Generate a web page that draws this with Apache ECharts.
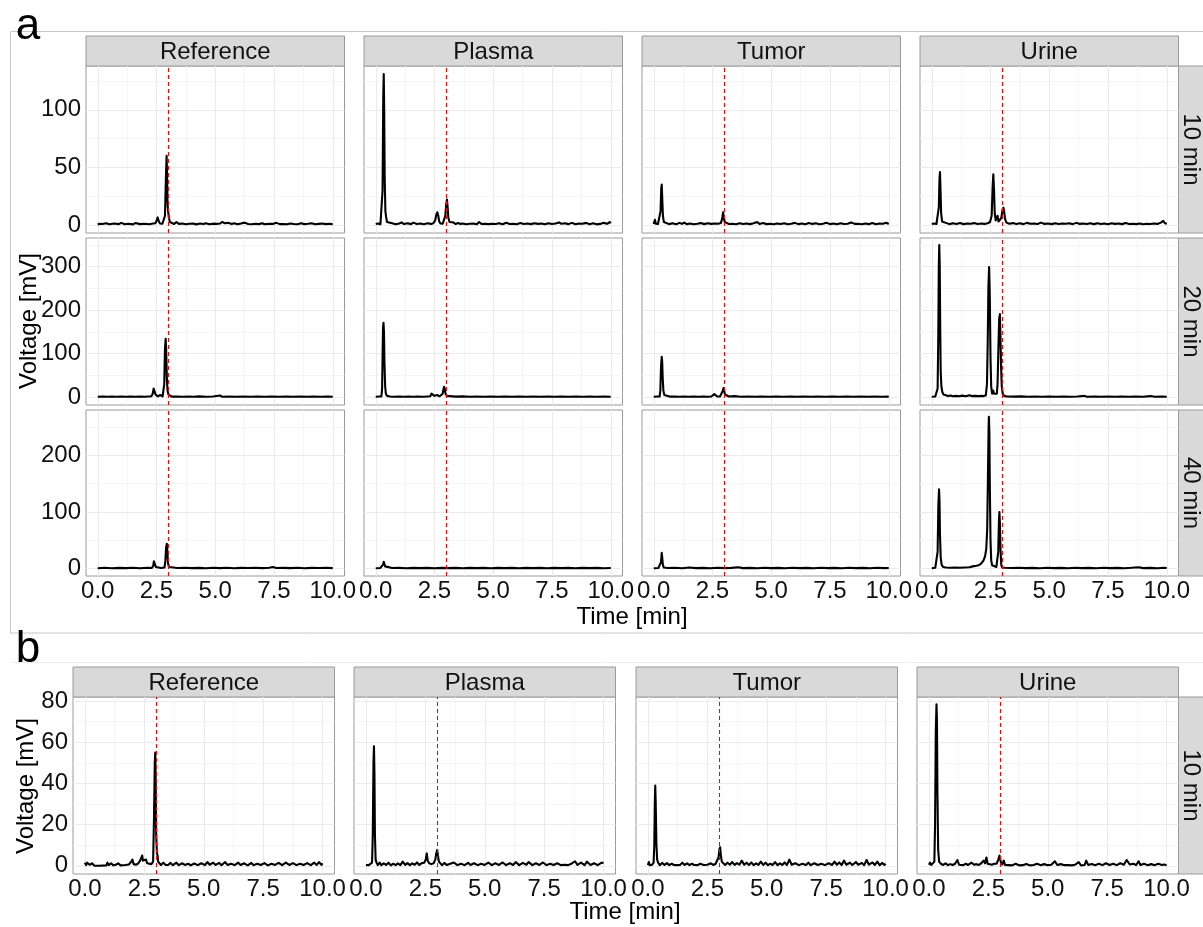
<!DOCTYPE html>
<html><head><meta charset="utf-8">
<script src="https://cdn.jsdelivr.net/npm/echarts@6/dist/echarts.min.js"></script>
<style>html,body{margin:0;padding:0;background:#fff}#c{width:1203px;height:927px}</style>
</head><body><div id="c"></div>
<script>
// ---------- labels & ticks ----------
const sampleNames = ['Reference', 'Plasma', 'Tumor', 'Urine'];
const rowLabelsA = ['10 min', '20 min', '40 min'];
const rowLabelB = '10 min';
const xTicks = [0, 2.5, 5, 7.5, 10];
const xMinor = [1.25, 3.75, 6.25, 8.75];
const yTicksA10 = [0, 50, 100];
const yMinorA10 = [25, 75, 125];
const yTicksA20 = [0, 100, 200, 300];
const yMinorA20 = [50, 150, 250, 350];
const yTicksA40 = [0, 100, 200];
const yMinorA40 = [50, 150, 250];
const yTicksB = [0, 20, 40, 60, 80];
const yMinorB = [10, 30, 50, 70];
const markerTime = 3.0;
const xTitle = 'Time [min]';
const yTitle = 'Voltage [mV]';

// ---------- a: 10 min ----------
const refA10 = [[0,0.5],[0.1,1],[0.2,0.8],[0.35,1.5],[0.5,0.6],[0.7,1.2],[0.9,0.7],[1.0,1.8],[1.15,0.6],[1.3,1.0],[1.5,0.5],[1.6,1.6],[1.8,0.7],[2.0,1.0],[2.2,0.6],[2.35,1.3],[2.45,1.5],[2.5,3.5],[2.55,6.5],[2.6,3],[2.65,1.2],[2.75,1.0],[2.82,1.5],[2.86,8],[2.9,40],[2.93,60],[2.95,42],[2.97,18],[3.0,11],[3.03,6],[3.07,2.5],[3.12,1.2],[3.25,0.8],[3.35,2.5],[3.45,0.9],[3.6,1.3],[3.75,0.6],[3.9,1.0],[4.05,1.3],[4.2,0.5],[4.35,1.2],[4.5,0.8],[4.6,1.4],[4.75,0.6],[4.9,1.1],[5.05,0.9],[5.2,1.2],[5.3,2.6],[5.4,1.5],[5.55,1.8],[5.7,0.9],[5.8,1.5],[5.95,0.6],[6.1,1.3],[6.25,2.0],[6.4,0.8],[6.55,0.6],[6.7,1.0],[6.85,0.7],[7.0,1.5],[7.1,0.6],[7.3,1.0],[7.45,0.9],[7.6,1.8],[7.75,0.7],[7.9,0.8],[8.05,0.6],[8.2,1.2],[8.35,0.8],[8.5,0.6],[8.65,1.4],[8.8,0.7],[8.95,1.0],[9.1,1.5],[9.25,0.6],[9.4,0.9],[9.55,1.2],[9.7,0.7],[9.85,1.1],[10,0.6]];
const plasmaA10 = [[0,0.8],[0.1,1.2],[0.2,0.7],[0.26,1.5],[0.29,30],[0.32,112],[0.34,131],[0.36,98],[0.38,42],[0.41,12],[0.44,7],[0.48,2.5],[0.55,0.8],[0.7,1.4],[0.85,0.6],[1.0,1.2],[1.1,2.2],[1.2,0.8],[1.35,1.5],[1.5,0.7],[1.6,2.0],[1.75,0.8],[1.9,1.2],[2.05,0.6],[2.2,1.4],[2.35,0.9],[2.45,1.5],[2.53,4],[2.58,9],[2.62,11],[2.66,8],[2.7,3],[2.76,1.2],[2.85,1.0],[2.92,1.8],[2.96,8],[3.0,18],[3.03,22],[3.06,15],[3.09,6],[3.14,2.5],[3.2,1.2],[3.3,2.2],[3.4,0.8],[3.5,1.6],[3.6,0.9],[3.7,1.3],[3.85,0.6],[4.0,1.0],[4.15,1.2],[4.3,0.6],[4.4,2.5],[4.5,0.8],[4.65,1.1],[4.8,0.7],[4.95,1.0],[5.1,0.8],[5.25,1.4],[5.4,0.6],[5.55,1.9],[5.7,0.8],[5.85,1.0],[6.0,0.6],[6.15,1.6],[6.3,0.8],[6.45,1.2],[6.6,0.7],[6.75,1.5],[6.9,0.9],[7.05,1.2],[7.2,0.6],[7.35,1.5],[7.5,0.8],[7.65,1.3],[7.8,2.2],[7.9,1.0],[8.05,1.5],[8.2,0.7],[8.35,1.8],[8.5,0.6],[8.65,1.3],[8.8,1.0],[8.95,1.8],[9.1,0.6],[9.25,1.4],[9.4,0.5],[9.55,0.9],[9.7,1.8],[9.85,1.0],[9.95,2.5],[10,1.5]];
const tumorA10 = [[0,0.8],[0.05,4.5],[0.09,1.0],[0.18,0.8],[0.26,1.5],[0.29,12],[0.32,32],[0.34,35],[0.36,24],[0.39,8],[0.43,2.5],[0.5,1.2],[0.65,0.7],[0.8,1.5],[0.95,0.6],[1.1,1.8],[1.2,0.9],[1.3,2.0],[1.4,0.7],[1.55,1.2],[1.7,0.6],[1.85,1.0],[2.0,1.6],[2.15,0.7],[2.3,1.5],[2.45,0.9],[2.6,1.3],[2.75,1.0],[2.85,1.6],[2.91,5],[2.95,11],[2.98,7],[3.02,2.5],[3.08,1.2],[3.2,0.8],[3.35,1.1],[3.5,0.6],[3.65,1.5],[3.8,0.8],[3.95,1.2],[4.1,0.7],[4.25,1.4],[4.4,2.5],[4.5,0.9],[4.65,1.6],[4.8,0.7],[4.95,1.0],[5.1,0.6],[5.25,1.2],[5.4,0.8],[5.55,1.5],[5.7,0.6],[5.85,1.1],[6.0,1.8],[6.15,0.7],[6.3,1.3],[6.45,0.6],[6.6,1.7],[6.75,0.9],[6.9,1.4],[7.05,0.6],[7.2,1.1],[7.35,1.9],[7.5,0.7],[7.65,1.2],[7.8,0.6],[7.95,1.5],[8.1,0.8],[8.25,1.0],[8.4,2.2],[8.55,0.9],[8.7,1.0],[8.85,0.6],[9.0,1.3],[9.15,0.7],[9.3,1.7],[9.45,0.6],[9.6,1.2],[9.75,1.0],[9.9,1.9],[10,0.8]];
const urineA10 = [[0,0.8],[0.1,1.2],[0.2,0.8],[0.27,2],[0.3,15],[0.33,40],[0.35,46],[0.37,32],[0.4,10],[0.44,3],[0.5,1.5],[0.6,1.8],[0.75,0.7],[0.9,1.5],[1.05,0.8],[1.2,1.6],[1.35,0.7],[1.5,1.3],[1.65,1.0],[1.8,1.6],[1.95,0.8],[2.1,1.2],[2.25,0.9],[2.38,1.5],[2.48,2.5],[2.55,8],[2.59,32],[2.62,44],[2.65,30],[2.68,10],[2.72,4],[2.76,4.5],[2.8,8],[2.84,3],[2.9,2.5],[2.96,6],[3.01,13],[3.05,15],[3.08,12],[3.12,5],[3.18,2],[3.3,1.0],[3.45,1.6],[3.6,0.8],[3.75,1.4],[3.9,0.7],[4.05,1.8],[4.2,1.0],[4.35,1.3],[4.5,0.8],[4.65,2.0],[4.8,0.9],[4.95,1.3],[5.1,0.7],[5.25,1.5],[5.4,0.8],[5.55,1.2],[5.7,1.0],[5.85,1.5],[6.0,0.7],[6.15,1.8],[6.3,0.9],[6.45,1.2],[6.6,0.8],[6.75,1.4],[6.9,0.7],[7.05,1.5],[7.2,0.8],[7.35,1.2],[7.5,0.6],[7.65,1.5],[7.8,0.9],[7.95,1.2],[8.1,0.7],[8.25,1.6],[8.4,0.8],[8.55,1.1],[8.7,0.7],[8.85,1.3],[9.0,0.6],[9.15,1.0],[9.3,0.8],[9.45,1.2],[9.6,0.9],[9.75,2.0],[9.85,3.5],[9.92,1.5],[10,1.0]];

// ---------- a: 20 min ----------
const refA20 = [[0,0.8],[0.2,1.5],[0.4,0.8],[0.6,1.4],[0.8,0.9],[1.0,1.6],[1.2,0.8],[1.4,1.3],[1.6,0.9],[1.8,1.5],[2.0,0.8],[2.15,1.4],[2.28,2],[2.34,8],[2.38,20],[2.4,24],[2.42,18],[2.46,6],[2.5,2.5],[2.56,2],[2.62,4],[2.66,5],[2.7,2.5],[2.76,2],[2.8,3],[2.83,30],[2.86,110],[2.89,134],[2.91,110],[2.94,45],[2.97,15],[3.01,6],[3.06,2.5],[3.15,1.2],[3.4,1.5],[3.6,0.8],[3.9,1.6],[4.1,0.9],[4.3,1.8],[4.6,1.0],[4.9,1.4],[5.2,4],[5.3,1.0],[5.6,1.5],[5.9,0.9],[6.2,1.6],[6.5,1.0],[6.8,1.4],[7.1,0.8],[7.4,1.5],[7.7,1.0],[8.0,1.6],[8.3,0.8],[8.6,1.5],[8.9,0.9],[9.2,1.3],[9.5,0.8],[9.8,1.5],[10,1.0]];
const plasmaA20 = [[0,0.8],[0.15,1.5],[0.24,1.5],[0.27,20],[0.29,90],[0.31,160],[0.33,171],[0.35,150],[0.37,80],[0.4,25],[0.43,8],[0.48,3],[0.6,1.5],[0.8,0.9],[1.0,1.6],[1.2,0.8],[1.4,1.5],[1.6,0.9],[1.8,1.4],[2.0,0.8],[2.2,1.5],[2.32,2],[2.37,8],[2.41,11],[2.45,6],[2.5,3],[2.56,3],[2.6,5],[2.64,3],[2.72,2],[2.8,2.5],[2.85,8],[2.88,18],[2.91,24],[2.94,18],[2.97,8],[3.02,3],[3.1,1.5],[3.4,1.2],[3.7,1.8],[4.0,0.9],[4.3,1.5],[4.6,1.0],[4.9,1.6],[5.2,0.8],[5.5,1.4],[5.8,0.9],[6.1,1.5],[6.4,0.8],[6.7,1.6],[7.0,0.9],[7.3,1.4],[7.6,1.0],[7.9,1.5],[8.2,0.8],[8.5,1.6],[8.8,1.0],[9.1,1.4],[9.4,0.8],[9.7,1.5],[10,1.0]];
const tumorA20 = [[0,0.8],[0.15,1.5],[0.25,1.5],[0.28,15],[0.31,70],[0.34,93],[0.36,80],[0.38,45],[0.41,15],[0.45,5],[0.52,2],[0.7,1.2],[0.9,1.6],[1.1,0.9],[1.3,1.4],[1.5,0.8],[1.7,1.5],[1.9,0.9],[2.1,1.3],[2.3,0.8],[2.45,1.5],[2.53,3],[2.58,7],[2.62,3],[2.7,1.5],[2.82,1.5],[2.9,5],[2.94,15],[2.97,21],[3.0,14],[3.03,6],[3.08,2],[3.2,1.5],[3.45,2.5],[3.7,1.0],[4.0,1.4],[4.3,0.8],[4.6,1.6],[4.9,0.9],[5.2,1.4],[5.5,0.8],[5.8,1.5],[6.1,1.0],[6.4,1.4],[6.7,0.8],[7.0,1.5],[7.3,0.9],[7.6,1.4],[7.9,0.8],[8.2,1.5],[8.5,1.0],[8.8,1.4],[9.1,0.8],[9.4,1.5],[9.7,1.0],[10,1.2]];
const urineA20 = [[0,0.8],[0.15,1.5],[0.22,2],[0.25,20],[0.28,150],[0.3,300],[0.32,350],[0.34,300],[0.36,160],[0.38,60],[0.41,25],[0.45,12],[0.5,6],[0.58,3],[0.7,2.5],[0.8,4],[0.9,2],[1.05,3],[1.15,2],[1.3,3.5],[1.45,2],[1.6,4.5],[1.7,2.5],[1.85,3],[2.0,2.5],[2.1,3],[2.2,2.5],[2.3,4],[2.35,30],[2.38,120],[2.41,250],[2.44,299],[2.47,230],[2.5,90],[2.53,25],[2.57,8],[2.6,12],[2.62,15],[2.65,8],[2.69,5],[2.73,4],[2.77,8],[2.8,30],[2.84,120],[2.87,180],[2.9,191],[2.92,150],[2.95,70],[2.98,25],[3.02,8],[3.08,3],[3.2,1.5],[3.5,1.2],[3.8,1.8],[4.1,1.0],[4.4,1.5],[4.7,0.9],[5.0,1.6],[5.3,1.0],[5.6,1.4],[5.9,0.8],[6.2,1.5],[6.5,3],[6.6,1.0],[6.9,1.4],[7.2,0.8],[7.5,1.5],[7.8,1.0],[8.1,1.4],[8.4,0.8],[8.7,1.6],[9.0,1.0],[9.3,2.5],[9.5,1.0],[9.8,1.5],[10,1.0]];

// ---------- a: 40 min ----------
const refA40 = [[0,0.8],[0.3,1.5],[0.6,0.8],[0.9,1.4],[1.2,0.9],[1.5,1.6],[1.8,0.8],[2.1,1.5],[2.3,1.2],[2.36,5],[2.39,13],[2.41,15],[2.43,10],[2.47,3],[2.55,1.5],[2.7,1.2],[2.84,2],[2.88,15],[2.91,38],[2.94,44],[2.96,32],[2.99,10],[3.03,3],[3.1,1.5],[3.4,1.0],[3.7,1.6],[4.0,0.9],[4.3,1.4],[4.6,0.8],[4.9,1.6],[5.2,0.9],[5.5,1.5],[5.8,0.8],[6.1,1.4],[6.4,1.0],[6.7,1.6],[7.0,0.9],[7.3,1.5],[7.45,3],[7.6,1.0],[7.9,1.4],[8.2,0.9],[8.5,1.5],[8.8,0.8],[9.1,1.4],[9.4,1.0],[9.7,1.5],[10,0.9]];
const plasmaA40 = [[0,0.8],[0.2,1.2],[0.28,1.5],[0.31,7],[0.34,12],[0.37,9],[0.4,4],[0.45,1.5],[0.7,1.0],[1.0,1.4],[1.3,0.8],[1.6,1.3],[1.9,0.9],[2.2,1.4],[2.5,0.8],[2.8,1.3],[3.1,0.9],[3.4,1.4],[3.7,0.8],[4.0,1.3],[4.3,0.9],[4.6,1.4],[4.9,0.8],[5.2,1.3],[5.5,0.9],[5.8,1.4],[6.1,0.8],[6.4,1.3],[6.7,0.9],[7.0,1.4],[7.3,0.8],[7.6,1.3],[7.9,0.9],[8.2,1.4],[8.5,0.8],[8.8,1.3],[9.1,0.9],[9.4,1.4],[9.7,0.8],[10,1.2]];
const tumorA40 = [[0,0.8],[0.2,1.2],[0.28,1.5],[0.31,12],[0.34,28],[0.36,20],[0.39,6],[0.43,2],[0.6,1.0],[0.9,1.5],[1.2,0.8],[1.5,2],[1.8,0.9],[2.1,1.4],[2.4,0.8],[2.7,1.5],[3.0,0.9],[3.3,1.4],[3.6,2.5],[3.8,0.9],[4.1,1.4],[4.4,0.8],[4.7,1.5],[5.0,0.9],[5.3,1.4],[5.6,0.8],[5.9,1.5],[6.2,0.9],[6.5,1.4],[6.8,0.8],[7.1,1.5],[7.4,0.9],[7.7,1.4],[8.0,0.8],[8.3,1.5],[8.6,0.9],[8.9,1.4],[9.2,0.8],[9.5,1.5],[9.8,0.9],[10,1.2]];
const urineA40 = [[0,0.8],[0.15,1.5],[0.22,3],[0.25,30],[0.28,110],[0.31,140],[0.33,120],[0.35,60],[0.38,20],[0.42,7],[0.48,3],[0.6,2],[0.8,1.5],[1.0,2],[1.2,1.5],[1.4,2],[1.6,2.5],[1.75,4],[1.9,5],[2.0,6],[2.1,9],[2.2,14],[2.27,22],[2.32,35],[2.36,70],[2.39,160],[2.42,250],[2.43,268],[2.45,240],[2.47,150],[2.5,50],[2.53,15],[2.57,6],[2.65,4],[2.75,3],[2.8,5],[2.83,30],[2.86,85],[2.88,100],[2.9,80],[2.93,30],[2.96,6],[3.0,2],[3.1,1.5],[3.4,1.0],[3.7,1.5],[4.0,0.9],[4.3,1.4],[4.6,0.8],[4.9,1.5],[5.2,0.9],[5.5,1.4],[5.8,0.8],[6.1,1.5],[6.4,0.9],[6.7,1.4],[7.0,0.8],[7.3,1.5],[7.6,0.9],[7.9,1.4],[8.2,0.8],[8.5,1.5],[8.8,2.5],[9.0,0.9],[9.3,1.4],[9.6,0.8],[9.9,1.5],[10,1.0]];

// ---------- b: 10 min ----------
const refB = [[0,1.5],[0.05,0.3],[0.1,1.5],[0.2,0.5],[0.3,1.2],[0.4,0],[0.6,0],[0.9,0.2],[0.95,1.5],[1.0,0.3],[1.1,1.2],[1.2,0.2],[1.3,0.5],[1.4,1.2],[1.5,0.2],[1.7,0.4],[1.85,0.6],[1.95,2],[2.0,3],[2.05,0.8],[2.15,0.5],[2.25,1.2],[2.32,2.5],[2.38,4],[2.41,5],[2.44,2.5],[2.5,3],[2.57,3],[2.62,1.2],[2.7,1],[2.8,0.8],[2.87,2],[2.91,25],[2.94,50],[2.96,55],[2.98,40],[3.0,15],[3.03,6],[3.06,5],[3.08,2],[3.12,1.5],[3.2,0.4],[3.3,1.5],[3.4,0.4],[3.5,0.4],[3.6,1.4],[3.7,0.3],[3.85,1.5],[3.95,0.3],[4.1,1.2],[4.2,0.4],[4.35,1.0],[4.45,0.2],[4.6,1.1],[4.75,0.3],[4.9,1.2],[5.05,0.3],[5.15,1.8],[5.25,0.5],[5.4,1.5],[5.5,0.4],[5.65,1.4],[5.75,0.3],[5.9,1.8],[6.0,0.4],[6.15,1.0],[6.3,0.3],[6.45,1.5],[6.55,0.4],[6.7,1.2],[6.85,0.2],[7.0,1.4],[7.1,0.3],[7.25,1.0],[7.4,0.4],[7.55,1.3],[7.7,0.2],[7.85,1.0],[8.0,0.4],[8.15,1.4],[8.3,0.3],[8.45,1.5],[8.6,0.4],[8.75,1.3],[8.9,0.3],[9.05,1.0],[9.2,0.4],[9.35,1.3],[9.5,0.3],[9.65,1.5],[9.75,0.4],[9.85,1.8],[9.95,0.4],[10,1.2]];
const plasmaB = [[0,0.4],[0.05,1.2],[0.12,0.3],[0.2,0.5],[0.26,1.5],[0.29,15],[0.32,50],[0.34,58],[0.36,45],[0.38,15],[0.41,3],[0.45,1.5],[0.5,0.3],[0.58,1.5],[0.65,0.3],[0.75,1.2],[0.85,0.4],[0.95,1.5],[1.05,0.2],[1.15,1.0],[1.25,0.3],[1.35,1.2],[1.45,0.3],[1.55,2],[1.65,0.4],[1.75,1.3],[1.85,0.3],[1.95,1.2],[2.05,0.5],[2.15,1.6],[2.25,0.4],[2.35,1.3],[2.45,1.5],[2.52,3],[2.56,6],[2.6,2.5],[2.66,1.2],[2.75,0.8],[2.85,1.2],[2.92,3],[2.96,6],[3.0,7.7],[3.03,5],[3.07,2],[3.12,1.5],[3.2,0.3],[3.3,1.4],[3.4,0.4],[3.55,1.0],[3.7,1.6],[3.85,0.3],[4.0,1.0],[4.15,0.3],[4.3,1.4],[4.4,0.4],[4.55,1.2],[4.7,0.3],[4.85,1.0],[5.0,0.4],[5.15,1.5],[5.3,0.3],[5.45,1.2],[5.6,0.4],[5.75,1.6],[5.9,0.3],[6.05,1.2],[6.2,0.4],[6.3,1.8],[6.45,0.3],[6.6,1.4],[6.75,0.5],[6.85,1.8],[7.0,0.3],[7.15,1.2],[7.3,0.4],[7.45,1.6],[7.6,0.3],[7.75,1.0],[7.9,0.4],[8.05,1.2],[8.2,0.3],[8.35,0.5],[8.5,0.3],[8.65,1.0],[8.8,2.2],[8.9,0.4],[9.05,1.5],[9.2,0.3],[9.3,2],[9.45,0.4],[9.6,1.2],[9.75,0.3],[9.9,1.4],[10,1.5]];
const tumorB = [[0,0.3],[0.04,1.8],[0.08,0.3],[0.18,0.5],[0.24,1.5],[0.27,10],[0.29,30],[0.31,39],[0.33,30],[0.36,10],[0.39,3],[0.43,1.5],[0.5,0.3],[0.6,1.4],[0.7,0.4],[0.8,1.3],[0.9,0.3],[1.0,1.0],[1.1,0.4],[1.2,0.3],[1.35,0.4],[1.45,1.5],[1.55,0.4],[1.65,1.2],[1.75,0.3],[1.85,1.0],[1.95,0.4],[2.1,0.3],[2.2,1.0],[2.35,0.4],[2.5,0.5],[2.65,1.2],[2.75,0.4],[2.85,1.0],[2.92,1.5],[2.97,4],[3.01,8],[3.04,9],[3.07,5],[3.11,2],[3.16,1.5],[3.25,0.4],[3.35,1.5],[3.45,0.5],[3.55,1.8],[3.65,0.4],[3.75,1.3],[3.85,0.5],[3.95,2.5],[4.05,0.5],[4.15,1.5],[4.25,0.4],[4.35,1.6],[4.45,0.3],[4.55,1.2],[4.65,0.4],[4.75,2],[4.85,0.4],[4.95,1.5],[5.05,0.3],[5.15,1.0],[5.25,0.4],[5.35,1.8],[5.45,0.3],[5.55,1.2],[5.65,0.4],[5.75,1.6],[5.85,0.4],[5.95,3],[6.05,0.5],[6.2,1.2],[6.35,0.3],[6.5,1.0],[6.65,0.4],[6.75,1.5],[6.85,0.3],[7.0,1.2],[7.15,0.4],[7.3,1.0],[7.45,0.3],[7.6,1.2],[7.75,0.4],[7.85,2],[7.95,0.5],[8.05,1.6],[8.15,0.4],[8.25,2.5],[8.35,0.5],[8.5,1.5],[8.6,0.4],[8.75,1.8],[8.85,0.5],[9.0,1.4],[9.1,0.3],[9.2,2.8],[9.3,0.5],[9.45,1.6],[9.55,0.4],[9.65,2.0],[9.75,0.3],[9.85,1.4],[9.95,0.4],[10,1.0]];
const urineB = [[0,0.5],[0.05,1.5],[0.1,0.4],[0.18,0.5],[0.23,2],[0.26,20],[0.29,65],[0.32,78.4],[0.34,70],[0.36,35],[0.39,8],[0.43,2],[0.5,1.0],[0.6,0.4],[0.7,1.2],[0.8,0.3],[0.9,0.8],[1.0,0.4],[1.1,1.0],[1.2,2.8],[1.27,0.5],[1.35,1.4],[1.45,0.3],[1.55,1.0],[1.65,0.4],[1.8,1.5],[1.9,0.5],[2.0,0.8],[2.1,0.4],[2.2,1.2],[2.3,2.5],[2.36,1.2],[2.42,4],[2.47,1.0],[2.55,0.8],[2.65,0.5],[2.75,1.0],[2.85,1.0],[2.92,3],[2.97,5],[3.02,2],[3.08,0.6],[3.15,2.5],[3.2,0.4],[3.35,0.3],[3.5,0.2],[3.65,1.0],[3.8,0.2],[3.95,0.3],[4.1,0.9],[4.25,0.2],[4.4,0.4],[4.55,1.0],[4.7,0.3],[4.85,0.8],[5.0,0.3],[5.15,0.5],[5.3,2.2],[5.4,0.4],[5.55,0.8],[5.7,0.3],[5.85,0.4],[6.0,0.2],[6.15,0.5],[6.3,1.8],[6.4,0.2],[6.55,0.4],[6.62,2.5],[6.7,0.4],[6.85,0.9],[7.0,0.3],[7.15,1.0],[7.3,0.3],[7.45,1.2],[7.6,0.4],[7.75,1.0],[7.9,0.3],[8.05,1.2],[8.2,0.5],[8.32,2.8],[8.45,0.6],[8.6,1.0],[8.72,0.4],[8.82,2.2],[8.9,0.4],[9.05,1.0],[9.2,0.3],[9.35,0.8],[9.5,0.3],[9.65,1.0],[9.8,0.4],[9.9,0.6],[10,0.3]];

// ---------- assembly ----------
const tracesA = [
  [refA10, plasmaA10, tumorA10, urineA10],
  [refA20, plasmaA20, tumorA20, urineA20],
  [refA40, plasmaA40, tumorA40, urineA40]
];
const tracesB = [refB, plasmaB, tumorB, urineB];
const yTicksAllA = [yTicksA10, yTicksA20, yTicksA40];
const yMinorAllA = [yMinorA10, yMinorA20, yMinorA40];

// layout (pixels)
const FONT = '"Liberation Sans", Arial, Helvetica, sans-serif';
const colLeftA = [86, 364, 642, 920], colWA = 258.5;
const rowTopA = [66, 238, 410], rowHA = [167, 167, 166];
const yLimA = [[-7, 138], [-18, 366], [-13, 280]];
const colLeftB = [73, 354, 636, 917], colWB = 261.5;
const rowTopB = 697, rowHB = 177;
const yLimB = [-4, 82];
const xLim = [-0.5, 10.5];
const RED = '#FF0000';

const grids = [], xAxes = [], yAxes = [], series = [], graphics = [];

function addPanel(left, top, w, h, ylim, data, yTicks, yMinor, showX, showY) {
  const i = grids.length;
  grids.push({left: left, top: top, width: w, height: h, show: true,
    backgroundColor: '#ffffff', borderColor: '#9a9a9a', borderWidth: 1});
  xAxes.push({type: 'value', gridIndex: i, min: xLim[0], max: xLim[1],
    splitLine: {show: false}, axisLine: {show: false},
    axisTick: {show: showX, length: 4, customValues: xTicks, lineStyle: {color: '#333', width: 1}},
    axisLabel: {show: showX, customValues: xTicks, formatter: v => Number(v).toFixed(1),
      fontSize: 24, fontFamily: FONT, color: '#111', margin: 3}});
  yAxes.push({type: 'value', gridIndex: i, min: ylim[0], max: ylim[1],
    splitLine: {show: false}, axisLine: {show: false},
    axisTick: {show: showY, length: 4, customValues: yTicks, lineStyle: {color: '#333', width: 1}},
    axisLabel: {show: showY, customValues: yTicks, formatter: v => String(v),
      fontSize: 24, fontFamily: FONT, color: '#111', margin: 5}});
  const gl = [];
  xMinor.forEach(v => gl.push({xAxis: v, lineStyle: {color: '#F3F3F3', width: 0.8, type: 'solid'}}));
  yMinor.forEach(v => gl.push({yAxis: v, lineStyle: {color: '#F3F3F3', width: 0.8, type: 'solid'}}));
  xTicks.forEach(v => gl.push({xAxis: v, lineStyle: {color: '#EBEBEB', width: 1.1, type: 'solid'}}));
  yTicks.forEach(v => gl.push({yAxis: v, lineStyle: {color: '#EBEBEB', width: 1.1, type: 'solid'}}));
  series.push({type: 'line', xAxisIndex: i, yAxisIndex: i, data: data, color: '#000',
    showSymbol: false, symbol: 'none', silent: true, animation: false, z: 3, smooth: false,
    lineStyle: {color: '#000', width: 2.1, join: 'round'}, emphasis: {disabled: true},
    markLine: {silent: true, symbol: ['none', 'none'], z: 1, animation: false,
      label: {show: false}, emphasis: {disabled: true}, data: gl}});
  series.push({type: 'line', xAxisIndex: i, yAxisIndex: i, data: [], color: RED,
    silent: true, animation: false, z: 4,
    markLine: {silent: true, symbol: ['none', 'none'], z: 5, animation: false,
      label: {show: false}, emphasis: {disabled: true},
      lineStyle: {color: RED, type: [4, 3], width: 1.1, opacity: 1},
      data: [{xAxis: markerTime, lineStyle: {color: RED, type: [4, 3], width: 1.1}}]}});
}

for (let r = 0; r < 3; r++) {
  for (let c = 0; c < 4; c++) {
    addPanel(colLeftA[c], rowTopA[r], colWA, rowHA[r], yLimA[r], tracesA[r][c],
      yTicksAllA[r], yMinorAllA[r], r === 2, c === 0);
  }
}
for (let c = 0; c < 4; c++) {
  addPanel(colLeftB[c], rowTopB, colWB, rowHB, yLimB, tracesB[c], yTicksB, yMinorB, true, c === 0);
}

// frames
graphics.push({type: 'rect', z: -10, shape: {x: 10.5, y: 31.5, width: 1200, height: 601.5},
  style: {fill: 'none', stroke: '#C8C8C8', lineWidth: 1}});
graphics.push({type: 'line', z: -10, shape: {x1: 10, y1: 662.5, x2: 1203, y2: 662.5},
  style: {stroke: '#EEEEEE', lineWidth: 1}});

function stripTop(x, y, w, h, label) {
  graphics.push({type: 'rect', shape: {x: x, y: y, width: w, height: h},
    style: {fill: '#D9D9D9', stroke: '#9a9a9a', lineWidth: 1}});
  graphics.push({type: 'text', x: x + w / 2, y: y + h / 2 + 1,
    style: {text: label, font: '24px ' + FONT, fill: '#111', align: 'center', verticalAlign: 'middle'}});
}
function stripRight(x, y, w, h, label) {
  graphics.push({type: 'rect', shape: {x: x, y: y, width: w, height: h},
    style: {fill: '#D9D9D9', stroke: '#9a9a9a', lineWidth: 1}});
  graphics.push({type: 'text', x: 1191, y: y + h / 2, rotation: -Math.PI / 2,
    style: {text: label, font: '24px ' + FONT, fill: '#111', align: 'center', verticalAlign: 'middle'}});
}
for (let c = 0; c < 4; c++) stripTop(colLeftA[c], 36, colWA, 30, sampleNames[c]);
for (let r = 0; r < 3; r++) stripRight(1178.5, rowTopA[r], 30, rowHA[r], rowLabelsA[r]);
for (let c = 0; c < 4; c++) stripTop(colLeftB[c], 667, colWB, 30, sampleNames[c]);
stripRight(1178.5, rowTopB, 30, rowHB, rowLabelB);

// titles
function txt(x, y, s, size, rot) {
  graphics.push({type: 'text', x: x, y: y, rotation: rot || 0,
    style: {text: s, font: size + 'px ' + FONT, fill: '#000', align: 'center', verticalAlign: 'middle'}});
}
txt(632, 617, xTitle, 24);
txt(625, 912, xTitle, 24);
txt(29, 321, yTitle, 24, Math.PI / 2);
txt(26, 786, yTitle, 24, Math.PI / 2);
txt(28, 27, 'a', 44);
txt(28, 650, 'b', 44);

const chart = echarts.init(document.getElementById('c'), null, {renderer: 'canvas'});
chart.setOption({
  backgroundColor: '#ffffff',
  animation: false,
  grid: grids, xAxis: xAxes, yAxis: yAxes, series: series,
  graphic: {elements: graphics}
});
</script>
</body></html>
